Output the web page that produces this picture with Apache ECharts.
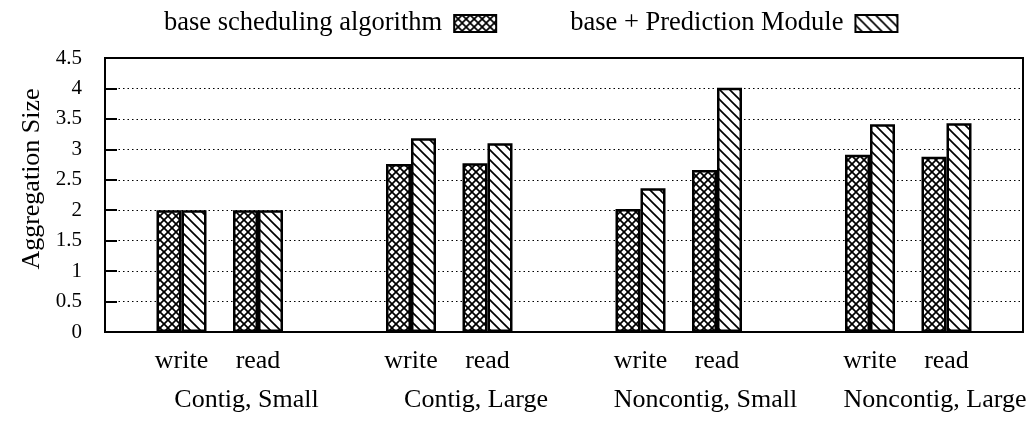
<!DOCTYPE html>
<html>
<head>
<meta charset="utf-8">
<script src="https://cdn.jsdelivr.net/npm/echarts@6/dist/echarts.min.js"></script>
<style>
  html, body { margin: 0; padding: 0; background: #fff; }
  #chart { width: 1033px; height: 423px; }
</style>
</head>
<body>
<div id="chart"></div>
<script>
// data
var groups = ['Contig, Small', 'Contig, Large', 'Noncontig, Small', 'Noncontig, Large'];
var ops = ['write', 'read'];
var seriesNames = ['base scheduling algorithm', 'base + Prediction Module'];
var baseValues = [2.0, 2.0, 2.76, 2.77, 2.02, 2.66, 2.91, 2.88];
var predValues = [2.0, 2.0, 3.18, 3.10, 2.36, 4.01, 3.41, 3.43];
var yTicks = [0, 0.5, 1, 1.5, 2, 2.5, 3, 3.5, 4, 4.5];

var FONT = "'Liberation Serif', 'Times New Roman', serif";

// x position of each bar pair: 3 slots per group (write, read, gap)
function pos(i) { return Math.floor(i / 2) * 3 + (i % 2); }
var opPositions = baseValues.map(function (v, i) { return pos(i); });
var groupPositions = groups.map(function (g, i) { return i * 3 + 0.85; });

// hatch patterns drawn on small canvases
function hatch(size, cross) {
  var c = document.createElement('canvas');
  c.width = size; c.height = size;
  var ctx = c.getContext('2d');
  ctx.fillStyle = '#fff';
  ctx.fillRect(0, 0, size, size);
  ctx.strokeStyle = '#000';
  ctx.lineWidth = 1.7;
  function line(x1, y1, x2, y2) {
    ctx.beginPath(); ctx.moveTo(x1, y1); ctx.lineTo(x2, y2); ctx.stroke();
  }
  // backslash diagonals
  line(-1, -1, size + 1, size + 1);
  line(-1, size - 1, 1, size + 1);
  line(size - 1, -1, size + 1, 1);
  if (cross) {
    line(-1, size + 1, size + 1, -1);
    line(-1, 1, 1, -1);
    line(size - 1, size + 1, size + 1, size - 1);
  }
  return { image: c, repeat: 'repeat' };
}

var crossFill = hatch(8, true);
var diagFill = hatch(10, false);

var chart = echarts.init(document.getElementById('chart'));

function barSeries(name, values, fill) {
  return {
    name: name,
    type: 'bar',
    xAxisIndex: 0,
    barWidth: 25,
    barGap: '0%',
    data: values.map(function (v, i) { return [opPositions[i], v]; }),
    itemStyle: { color: fill, borderColor: '#000', borderWidth: 2.5 },
    emphasis: { disabled: true }
  };
}

chart.setOption({
  animation: false,
  textStyle: { fontFamily: FONT, color: '#000' },
  legend: {
    top: 5,
    left: 159,
    align: 'right',
    icon: 'rect',
    itemWidth: 42,
    itemHeight: 17,
    itemGap: 73,
    textStyle: { fontFamily: FONT, fontSize: 26.5, color: '#000', padding: [0, 7, 0, 0] },
    data: seriesNames.map(function (n) { return { name: n }; })
  },
  grid: {
    left: 105, right: 10, top: 58, bottom: 91,
    show: true, borderColor: '#000', borderWidth: 2
  },
  xAxis: [
    {
      type: 'value',
      min: -1, max: 11,
      axisLine: { show: true, onZero: false, lineStyle: { color: '#000', width: 2 } },
      axisTick: { show: false },
      splitLine: { show: false },
      axisLabel: {
        customValues: opPositions,
        margin: 16,
        fontFamily: FONT, fontSize: 26, color: '#000',
        formatter: function (v) { return ops[Math.round(v) % 3] || ''; }
      }
    },
    {
      type: 'value',
      position: 'bottom',
      min: -1, max: 11,
      axisLine: { show: false, onZero: false },
      axisTick: { show: false },
      splitLine: { show: false },
      axisLabel: {
        customValues: groupPositions,
        margin: 55,
        fontFamily: FONT, fontSize: 26, color: '#000',
        formatter: function (v) { return groups[Math.round((v - 0.85) / 3)]; }
      }
    }
  ],
  yAxis: {
    type: 'value',
    min: 0, max: 4.5, interval: 0.5,
    name: 'Aggregation Size',
    nameLocation: 'middle',
    nameGap: 60,
    nameTextStyle: { fontFamily: FONT, fontSize: 26, color: '#000', padding: [0, 0, 0, 32] },
    axisLine: { show: true, onZero: false, lineStyle: { color: '#000', width: 2 } },
    axisTick: { show: true, inside: true, length: 12, lineStyle: { color: '#000', width: 2 } },
    axisLabel: {
      margin: 23, fontFamily: FONT, fontSize: 21, color: '#000',
      customValues: yTicks,
      formatter: function (v) { return String(v); }
    },
    splitLine: { show: true, lineStyle: { color: '#000', width: 1, type: [1.5, 3] } }
  },
  series: [
    barSeries(seriesNames[0], baseValues, crossFill),
    barSeries(seriesNames[1], predValues, diagFill)
  ]
});
</script>
</body>
</html>
